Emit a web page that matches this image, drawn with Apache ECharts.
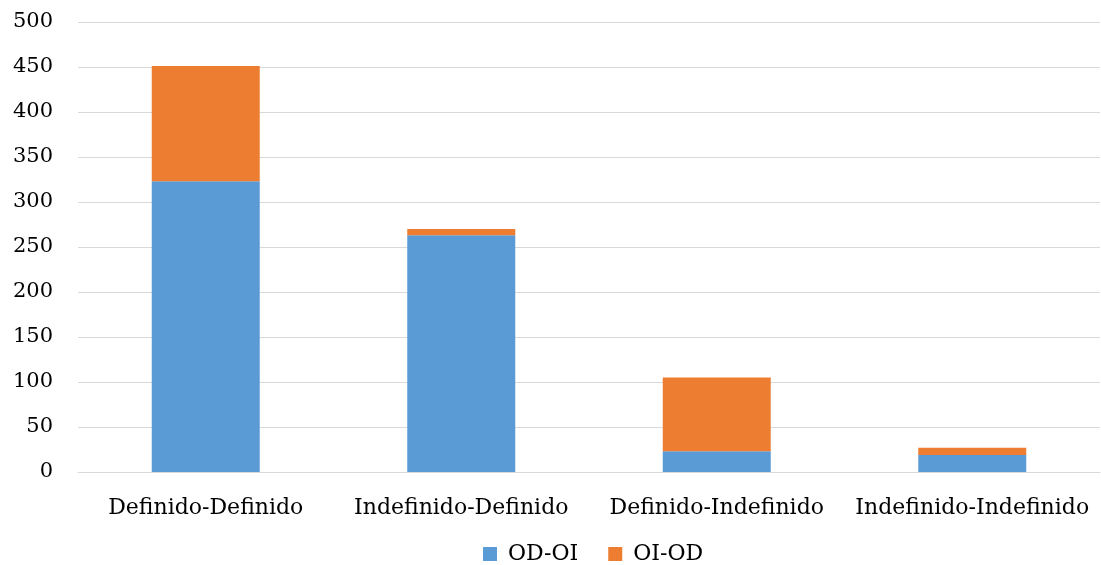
<!DOCTYPE html>
<html>
<head>
<meta charset="utf-8">
<script src="https://cdn.jsdelivr.net/npm/echarts@6/dist/echarts.min.js"></script>
<style>html,body{margin:0;padding:0;background:#fff}#c{width:1101px;height:565px}</style>
</head>
<body>
<div id="c"></div>
<script>
const categories = ['Definido-Definido', 'Indefinido-Definido', 'Definido-Indefinido', 'Indefinido-Indefinido'];
const odOi = [323, 263, 23, 19];
const oiOd = [128, 7, 82, 8];
const seriesNames = ['OD-OI', 'OI-OD'];

const font = '"DejaVu Serif", "Liberation Serif", serif';
const chart = echarts.init(document.getElementById('c'));
chart.setOption({
  animation: false,
  textStyle: { fontFamily: font },
  color: ['#5b9bd5', '#ed7d31'],
  grid: { left: 78, right: 1, top: 22, bottom: 93, containLabel: false },
  legend: {
    top: 538,
    left: 478,
    itemWidth: 14, itemHeight: 14, itemGap: 30,
    icon: 'rect',
    textStyle: { fontFamily: font, fontSize: 22, color: '#000', padding: [0, 0, 0, 6] },
    data: seriesNames
  },
  xAxis: {
    type: 'category',
    data: categories,
    axisLine: { lineStyle: { color: '#d9d9d9' } },
    axisTick: { show: false },
    axisLabel: { fontFamily: font, fontSize: 22, color: '#000', margin: 25, interval: 0 }
  },
  yAxis: {
    type: 'value',
    min: 0, max: 500, interval: 50,
    axisLine: { show: false },
    axisTick: { show: false },
    splitLine: { lineStyle: { color: '#d9d9d9' } },
    axisLabel: { fontFamily: font, fontSize: 21, color: '#000', margin: 25 }
  },
  series: [
    { name: seriesNames[0], type: 'bar', stack: 's', data: odOi, barWidth: 108 },
    { name: seriesNames[1], type: 'bar', stack: 's', data: oiOd, barWidth: 108 }
  ]
});
</script>
</body>
</html>
